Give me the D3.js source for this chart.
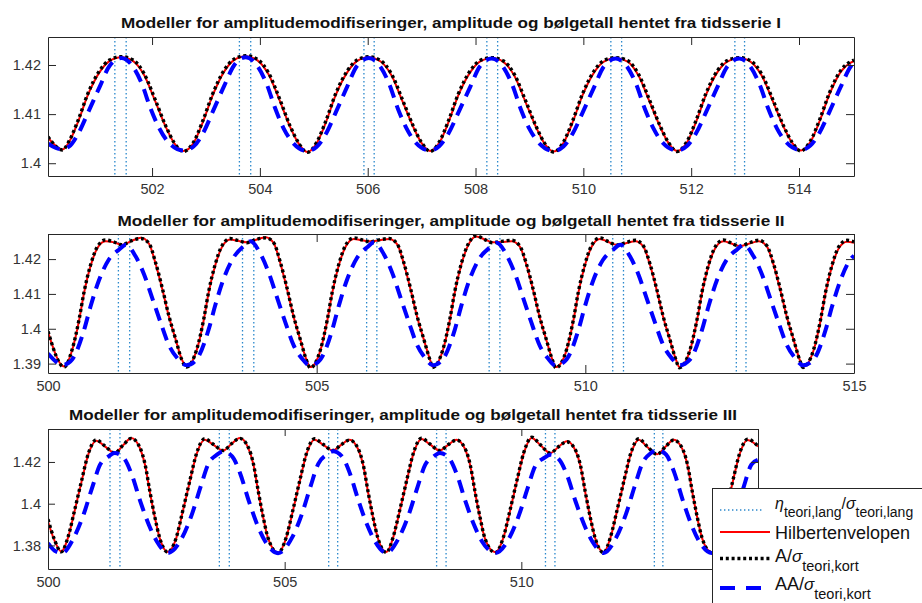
<!DOCTYPE html>
<html>
<head>
<meta charset="utf-8">
<script src="https://cdn.jsdelivr.net/npm/d3@7"></script>
<style>
  html, body { margin: 0; padding: 0; background: #fff; }
  svg { display: block; font-family: "Liberation Sans", Arial, Helvetica, sans-serif; }
</style>
</head>
<body>
<svg id="fig" width="922" height="603"></svg>
<script>
// ---- η_teori,lang / σ_teori,lang : steep crossings seen as vertical dotted lines ----
const etaCrossings = [501.31, 501.52, 503.62, 503.83, 505.93, 506.12, 508.21, 508.41, 510.51, 510.71, 512.81, 512.99];

// ---- Tidsserie I ----
const p1X = [500.07, 500.34,
  500.46, 500.63, 500.81, 501.03, 501.21, 501.43, 501.65, 501.85, 502.06, 502.25, 502.41, 502.58,
  502.77, 502.94, 503.12, 503.34, 503.52, 503.74, 503.96, 504.16, 504.37, 504.56, 504.72, 504.88,
  505.05, 505.22, 505.40, 505.62, 505.80, 506.02, 506.24, 506.44, 506.65, 506.84, 507.00, 507.16,
  507.33, 507.50, 507.68, 507.90, 508.08, 508.30, 508.52, 508.72, 508.93, 509.12, 509.28, 509.45,
  509.63, 509.80, 509.98, 510.20, 510.38, 510.60, 510.82, 511.02, 511.23, 511.42, 511.58, 511.74,
  511.92, 512.09, 512.27, 512.49, 512.67, 512.89, 513.11, 513.31, 513.52, 513.71, 513.87, 514.03,
  514.21, 514.38, 514.56, 514.78, 514.96, 515.02];
const p1Hilbert = [1.4052, 1.4028,
  1.4043, 1.4085, 1.4139, 1.4186, 1.4208, 1.4216, 1.4208, 1.4180, 1.4126, 1.4075, 1.4041, 1.4025,
  1.4041, 1.4083, 1.4137, 1.4187, 1.4210, 1.4218, 1.4209, 1.4181, 1.4127, 1.4074, 1.4040, 1.4023,
  1.4040, 1.4082, 1.4137, 1.4185, 1.4208, 1.4216, 1.4207, 1.4179, 1.4125, 1.4075, 1.4041, 1.4025,
  1.4042, 1.4084, 1.4138, 1.4185, 1.4207, 1.4214, 1.4206, 1.4178, 1.4124, 1.4074, 1.4040, 1.4024,
  1.4041, 1.4083, 1.4137, 1.4185, 1.4207, 1.4214, 1.4207, 1.4179, 1.4125, 1.4075, 1.4041, 1.4025,
  1.4042, 1.4084, 1.4138, 1.4186, 1.4207, 1.4214, 1.4206, 1.4178, 1.4125, 1.4075, 1.4042, 1.4026,
  1.4043, 1.4085, 1.4139, 1.4187, 1.4205, 1.4208];
const p1A = [1.4054, 1.4027,
  1.4045, 1.4088, 1.4142, 1.4189, 1.4210, 1.4217, 1.4210, 1.4183, 1.4129, 1.4077, 1.4042, 1.4024,
  1.4043, 1.4086, 1.4140, 1.4190, 1.4212, 1.4219, 1.4211, 1.4184, 1.4130, 1.4076, 1.4041, 1.4022,
  1.4042, 1.4085, 1.4140, 1.4188, 1.4210, 1.4217, 1.4209, 1.4182, 1.4128, 1.4077, 1.4042, 1.4024,
  1.4044, 1.4087, 1.4141, 1.4188, 1.4209, 1.4215, 1.4208, 1.4181, 1.4127, 1.4076, 1.4041, 1.4023,
  1.4043, 1.4086, 1.4140, 1.4188, 1.4209, 1.4215, 1.4209, 1.4182, 1.4128, 1.4077, 1.4042, 1.4024,
  1.4044, 1.4087, 1.4141, 1.4189, 1.4209, 1.4215, 1.4208, 1.4181, 1.4128, 1.4077, 1.4043, 1.4025,
  1.4045, 1.4088, 1.4142, 1.4190, 1.4207, 1.4210];
const p1XAA = [500.07, 500.30,
  500.46, 500.63, 500.82, 501.03, 501.21, 501.43, 501.63, 501.81, 501.97, 502.13, 502.30, 502.58,
  502.77, 502.94, 503.13, 503.34, 503.52, 503.74, 503.94, 504.12, 504.28, 504.44, 504.61, 504.88,
  505.05, 505.22, 505.41, 505.62, 505.80, 506.02, 506.22, 506.40, 506.56, 506.72, 506.89, 507.16,
  507.33, 507.50, 507.69, 507.90, 508.08, 508.30, 508.50, 508.68, 508.84, 509.00, 509.17, 509.45,
  509.63, 509.80, 509.99, 510.20, 510.38, 510.60, 510.80, 510.98, 511.14, 511.30, 511.47, 511.74,
  511.92, 512.09, 512.28, 512.49, 512.67, 512.89, 513.09, 513.27, 513.43, 513.59, 513.76, 514.03,
  514.21, 514.38, 514.57, 514.78, 514.96, 515.02];
const p1AA = [1.4040, 1.4029,
  1.4034, 1.4060, 1.4105, 1.4156, 1.4198, 1.4214, 1.4199, 1.4162, 1.4112, 1.4072, 1.4043, 1.4026,
  1.4034, 1.4060, 1.4106, 1.4158, 1.4199, 1.4216, 1.4200, 1.4163, 1.4113, 1.4071, 1.4042, 1.4025,
  1.4033, 1.4059, 1.4104, 1.4156, 1.4198, 1.4214, 1.4199, 1.4161, 1.4111, 1.4071, 1.4042, 1.4026,
  1.4035, 1.4061, 1.4105, 1.4155, 1.4197, 1.4213, 1.4198, 1.4160, 1.4110, 1.4070, 1.4042, 1.4025,
  1.4034, 1.4060, 1.4104, 1.4155, 1.4197, 1.4213, 1.4198, 1.4161, 1.4111, 1.4071, 1.4042, 1.4026,
  1.4035, 1.4061, 1.4105, 1.4156, 1.4197, 1.4213, 1.4198, 1.4160, 1.4111, 1.4071, 1.4043, 1.4027,
  1.4036, 1.4062, 1.4106, 1.4157, 1.4197, 1.4204];

// ---- Tidsserie II ----
const p2X = [500.00, 500.30,
  500.45, 500.58, 500.67, 500.79, 500.92, 501.07, 501.23, 501.38, 501.54, 501.73, 501.88, 502.00, 502.13, 502.25, 502.38, 502.49, 502.58,
  502.77, 502.90, 502.99, 503.11, 503.24, 503.39, 503.55, 503.70, 503.86, 504.05, 504.20, 504.32, 504.45, 504.57, 504.70, 504.81, 504.88,
  505.07, 505.20, 505.29, 505.41, 505.54, 505.69, 505.85, 506.00, 506.16, 506.35, 506.50, 506.62, 506.75, 506.87, 507.00, 507.11, 507.16,
  507.35, 507.48, 507.57, 507.69, 507.82, 507.97, 508.13, 508.28, 508.44, 508.63, 508.78, 508.90, 509.03, 509.15, 509.28, 509.39, 509.45,
  509.65, 509.78, 509.87, 509.99, 510.12, 510.27, 510.43, 510.58, 510.74, 510.93, 511.08, 511.20, 511.33, 511.45, 511.58, 511.69, 511.75,
  511.95, 512.08, 512.17, 512.29, 512.42, 512.57, 512.73, 512.88, 513.04, 513.23, 513.38, 513.50, 513.63, 513.75, 513.88, 513.99, 514.05,
  514.25, 514.38, 514.47, 514.59, 514.72, 514.87, 515.00];
const p2Hilbert = [1.3991, 1.3892,
  1.3939, 1.4025, 1.4102, 1.4179, 1.4232, 1.4251, 1.4248, 1.4241, 1.4251, 1.4261, 1.4244, 1.4188, 1.4112, 1.4035, 1.3967, 1.3912, 1.3892,
  1.3940, 1.4026, 1.4104, 1.4181, 1.4235, 1.4256, 1.4252, 1.4248, 1.4255, 1.4263, 1.4246, 1.4190, 1.4113, 1.4035, 1.3966, 1.3911, 1.3890,
  1.3938, 1.4025, 1.4103, 1.4181, 1.4236, 1.4258, 1.4254, 1.4251, 1.4254, 1.4258, 1.4242, 1.4188, 1.4111, 1.4034, 1.3966, 1.3911, 1.3891,
  1.3939, 1.4026, 1.4104, 1.4183, 1.4240, 1.4265, 1.4256, 1.4248, 1.4249, 1.4251, 1.4236, 1.4185, 1.4110, 1.4033, 1.3965, 1.3910, 1.3890,
  1.3938, 1.4025, 1.4103, 1.4181, 1.4236, 1.4258, 1.4249, 1.4241, 1.4245, 1.4251, 1.4236, 1.4185, 1.4110, 1.4033, 1.3965, 1.3910, 1.3890,
  1.3939, 1.4025, 1.4102, 1.4179, 1.4232, 1.4251, 1.4244, 1.4237, 1.4244, 1.4251, 1.4236, 1.4185, 1.4110, 1.4034, 1.3966, 1.3911, 1.3891,
  1.3939, 1.4025, 1.4102, 1.4179, 1.4232, 1.4250, 1.4247];
const p2A = [1.3993, 1.3890,
  1.3941, 1.4028, 1.4105, 1.4182, 1.4236, 1.4255, 1.4249, 1.4241, 1.4252, 1.4259, 1.4245, 1.4191, 1.4115, 1.4037, 1.3968, 1.3911, 1.3890,
  1.3942, 1.4029, 1.4107, 1.4184, 1.4239, 1.4259, 1.4253, 1.4247, 1.4256, 1.4261, 1.4247, 1.4193, 1.4116, 1.4037, 1.3967, 1.3910, 1.3888,
  1.3940, 1.4028, 1.4106, 1.4184, 1.4240, 1.4261, 1.4255, 1.4250, 1.4255, 1.4259, 1.4243, 1.4191, 1.4114, 1.4036, 1.3967, 1.3910, 1.3889,
  1.3941, 1.4029, 1.4107, 1.4186, 1.4243, 1.4267, 1.4256, 1.4247, 1.4251, 1.4254, 1.4238, 1.4188, 1.4113, 1.4035, 1.3966, 1.3909, 1.3888,
  1.3940, 1.4028, 1.4106, 1.4184, 1.4240, 1.4261, 1.4250, 1.4240, 1.4247, 1.4254, 1.4238, 1.4188, 1.4113, 1.4035, 1.3966, 1.3909, 1.3888,
  1.3941, 1.4028, 1.4105, 1.4182, 1.4236, 1.4255, 1.4245, 1.4236, 1.4246, 1.4254, 1.4238, 1.4188, 1.4113, 1.4036, 1.3967, 1.3910, 1.3889,
  1.3941, 1.4028, 1.4105, 1.4182, 1.4236, 1.4254, 1.4250];
const p2XAA = [500.00, 500.28,
  500.45, 500.67, 500.79, 500.95, 501.13, 501.32, 501.45, 501.63, 501.79, 501.94, 502.10, 502.25, 502.41, 502.58,
  502.77, 502.99, 503.11, 503.27, 503.45, 503.64, 503.77, 503.95, 504.11, 504.26, 504.42, 504.57, 504.73, 504.88,
  505.07, 505.29, 505.41, 505.57, 505.75, 505.94, 506.07, 506.25, 506.41, 506.56, 506.72, 506.87, 507.03, 507.16,
  507.35, 507.57, 507.69, 507.85, 508.03, 508.22, 508.35, 508.53, 508.69, 508.84, 509.00, 509.15, 509.31, 509.45,
  509.65, 509.87, 509.99, 510.15, 510.33, 510.52, 510.65, 510.83, 510.99, 511.14, 511.30, 511.45, 511.61, 511.75,
  511.95, 512.17, 512.29, 512.45, 512.63, 512.82, 512.95, 513.13, 513.29, 513.44, 513.60, 513.75, 513.91, 514.05,
  514.25, 514.47, 514.59, 514.75, 514.93, 515.00];
const p2AA = [1.3929, 1.3896,
  1.3912, 1.3996, 1.4063, 1.4140, 1.4198, 1.4227, 1.4241, 1.4208, 1.4155, 1.4088, 1.4016, 1.3953, 1.3915, 1.3895,
  1.3913, 1.3998, 1.4066, 1.4144, 1.4204, 1.4237, 1.4251, 1.4216, 1.4160, 1.4091, 1.4017, 1.3953, 1.3914, 1.3894,
  1.3912, 1.3997, 1.4065, 1.4143, 1.4203, 1.4234, 1.4248, 1.4214, 1.4159, 1.4090, 1.4017, 1.3953, 1.3914, 1.3895,
  1.3913, 1.3997, 1.4065, 1.4143, 1.4202, 1.4233, 1.4247, 1.4213, 1.4158, 1.4090, 1.4016, 1.3952, 1.3914, 1.3894,
  1.3912, 1.3996, 1.4063, 1.4140, 1.4198, 1.4227, 1.4241, 1.4208, 1.4155, 1.4088, 1.4016, 1.3953, 1.3915, 1.3895,
  1.3912, 1.3996, 1.4063, 1.4140, 1.4198, 1.4227, 1.4241, 1.4208, 1.4155, 1.4088, 1.4016, 1.3953, 1.3915, 1.3895,
  1.3912, 1.3996, 1.4063, 1.4140, 1.4198, 1.4210];

// ---- Tidsserie III ----
const p3X = [500.00, 500.14, 500.28,
  500.42, 500.56, 500.71, 500.85, 501.02, 501.20, 501.41, 501.59, 501.76, 501.94, 502.05, 502.15, 502.26, 502.36, 502.53,
  502.71, 502.85, 503.00, 503.14, 503.31, 503.49, 503.70, 503.88, 504.05, 504.23, 504.34, 504.44, 504.55, 504.65, 504.86,
  505.03, 505.17, 505.32, 505.46, 505.63, 505.81, 506.02, 506.20, 506.37, 506.55, 506.66, 506.76, 506.87, 506.97, 507.15,
  507.29, 507.43, 507.58, 507.72, 507.89, 508.07, 508.28, 508.46, 508.63, 508.81, 508.92, 509.02, 509.13, 509.23, 509.45,
  509.62, 509.76, 509.91, 510.05, 510.22, 510.40, 510.61, 510.79, 510.96, 511.14, 511.25, 511.35, 511.46, 511.56, 511.74,
  511.88, 512.02, 512.17, 512.31, 512.48, 512.66, 512.87, 513.05, 513.22, 513.40, 513.51, 513.61, 513.72, 513.82, 514.02,
  514.18, 514.32, 514.47, 514.61, 514.78, 515.00];
const p3Hilbert = [1.3915, 1.3822, 1.3771,
  1.3835, 1.3963, 1.4107, 1.4235, 1.4302, 1.4275, 1.4243, 1.4281, 1.4315, 1.4267, 1.4187, 1.4059, 1.3931, 1.3835, 1.3769,
  1.3835, 1.3965, 1.4110, 1.4238, 1.4307, 1.4283, 1.4255, 1.4287, 1.4315, 1.4268, 1.4188, 1.4060, 1.3930, 1.3834, 1.3766,
  1.3834, 1.3962, 1.4108, 1.4237, 1.4307, 1.4283, 1.4255, 1.4283, 1.4307, 1.4262, 1.4184, 1.4057, 1.3930, 1.3834, 1.3768,
  1.3836, 1.3964, 1.4110, 1.4239, 1.4310, 1.4284, 1.4255, 1.4283, 1.4307, 1.4262, 1.4184, 1.4057, 1.3930, 1.3834, 1.3767,
  1.3836, 1.3964, 1.4111, 1.4240, 1.4315, 1.4281, 1.4243, 1.4273, 1.4299, 1.4256, 1.4180, 1.4055, 1.3929, 1.3834, 1.3767,
  1.3835, 1.3963, 1.4108, 1.4236, 1.4307, 1.4272, 1.4237, 1.4274, 1.4307, 1.4263, 1.4185, 1.4058, 1.3930, 1.3834, 1.3767,
  1.3835, 1.3963, 1.4108, 1.4236, 1.4305, 1.4274];
const p3A = [1.3925, 1.3826, 1.3769,
  1.3838, 1.3967, 1.4111, 1.4239, 1.4306, 1.4277, 1.4243, 1.4282, 1.4313, 1.4270, 1.4190, 1.4062, 1.3933, 1.3836, 1.3767,
  1.3838, 1.3969, 1.4114, 1.4242, 1.4311, 1.4285, 1.4255, 1.4288, 1.4313, 1.4271, 1.4191, 1.4063, 1.3932, 1.3835, 1.3764,
  1.3837, 1.3966, 1.4112, 1.4241, 1.4311, 1.4285, 1.4255, 1.4284, 1.4305, 1.4265, 1.4187, 1.4060, 1.3932, 1.3835, 1.3766,
  1.3839, 1.3968, 1.4114, 1.4243, 1.4314, 1.4286, 1.4255, 1.4284, 1.4305, 1.4265, 1.4187, 1.4060, 1.3932, 1.3835, 1.3765,
  1.3839, 1.3968, 1.4115, 1.4244, 1.4319, 1.4283, 1.4243, 1.4274, 1.4297, 1.4259, 1.4183, 1.4058, 1.3931, 1.3835, 1.3765,
  1.3838, 1.3967, 1.4112, 1.4240, 1.4311, 1.4274, 1.4237, 1.4275, 1.4305, 1.4266, 1.4188, 1.4061, 1.3932, 1.3835, 1.3765,
  1.3838, 1.3967, 1.4112, 1.4240, 1.4309, 1.4276];
const p3XAA = [500.00, 500.16, 500.30,
  500.54, 500.75, 500.93, 501.10, 501.28, 501.41, 501.60, 501.77, 501.95, 502.13, 502.30, 502.53,
  502.83, 503.04, 503.22, 503.39, 503.57, 503.70, 503.89, 504.06, 504.24, 504.42, 504.59, 504.86,
  505.15, 505.36, 505.54, 505.71, 505.89, 506.02, 506.21, 506.38, 506.56, 506.74, 506.91, 507.15,
  507.41, 507.62, 507.80, 507.97, 508.15, 508.28, 508.47, 508.64, 508.82, 509.00, 509.17, 509.45,
  509.74, 509.95, 510.13, 510.30, 510.48, 510.61, 510.80, 510.97, 511.15, 511.33, 511.50, 511.74,
  512.00, 512.21, 512.39, 512.56, 512.74, 512.87, 513.06, 513.23, 513.41, 513.59, 513.76, 514.02,
  514.30, 514.51, 514.69, 514.86, 515.00];
const p3AA = [1.3811, 1.3772, 1.3764,
  1.3835, 1.3947, 1.4075, 1.4187, 1.4227, 1.4243, 1.4219, 1.4139, 1.4011, 1.3899, 1.3819, 1.3764,
  1.3836, 1.3949, 1.4078, 1.4192, 1.4235, 1.4251, 1.4227, 1.4145, 1.4015, 1.3900, 1.3819, 1.3763,
  1.3835, 1.3948, 1.4078, 1.4191, 1.4235, 1.4251, 1.4227, 1.4144, 1.4014, 1.3900, 1.3819, 1.3764,
  1.3835, 1.3947, 1.4075, 1.4187, 1.4227, 1.4243, 1.4219, 1.4139, 1.4011, 1.3899, 1.3819, 1.3764,
  1.3834, 1.3945, 1.4072, 1.4183, 1.4219, 1.4235, 1.4211, 1.4134, 1.4008, 1.3898, 1.3819, 1.3764,
  1.3836, 1.3950, 1.4080, 1.4195, 1.4243, 1.4259, 1.4235, 1.4150, 1.4017, 1.3901, 1.3819, 1.3764,
  1.3835, 1.3947, 1.4075, 1.4187, 1.4210];

// ---- axis ticks ----
const p1XTicks = [502, 504, 506, 508, 510, 512, 514];
const p23XTicks = [500, 505, 510, 515];
const p1YTicks = [1.40, 1.41, 1.42];
const p2YTicks = [1.39, 1.40, 1.41, 1.42];
const p3YTicks = [1.38, 1.40, 1.42];

const titleBase = "Modeller for amplitudemodifiseringer, amplitude og bølgetall hentet fra tidsserie ";
const serieNames = ["I", "II", "III"];

// ---- drawing ----
const svg = d3.select("#fig");
const AXIS = "#262626";
const ETA = "#2a88cc";
const fmt = d => String(+d.toFixed(2));

const panels = [
  { box: [48, 854, 37, 176], xd: [500.07, 515.02], yd: [1.3974, 1.4257], xt: p1XTicks, yt: p1YTicks,
    titleY: 28, titleLen: 660, tick: 8,
    red: [p1X, p1Hilbert], black: [p1X, p1A], blue: [p1XAA, p1AA] },
  { box: [48, 854, 234, 373], xd: [500, 515], yd: [1.3873, 1.4272], xt: p23XTicks, yt: p2YTicks,
    titleY: 226, titleLen: 667, tick: 8,
    red: [p2X, p2Hilbert], black: [p2X, p2A], blue: [p2XAA, p2AA] },
  { box: [48, 758, 429, 569], xd: [500, 515], yd: [1.3687, 1.4358], xt: p23XTicks, yt: p3YTicks,
    titleY: 420, titleLen: 668, tick: 7,
    red: [p3X, p3Hilbert], black: [p3X, p3A], blue: [p3XAA, p3AA] }
];

panels.forEach((p, i) => {
  const [L, R, T, B] = p.box;
  const x = d3.scaleLinear().domain(p.xd).range([L, R]);
  const y = d3.scaleLinear().domain(p.yd).range([B, T]);
  const g = svg.append("g");

  const clipId = "clip" + i;
  svg.append("clipPath").attr("id", clipId)
    .append("rect").attr("x", L).attr("y", T).attr("width", R - L).attr("height", B - T);

  const plot = g.append("g").attr("clip-path", `url(#${clipId})`);

  // η dotted lines
  plot.selectAll("line.eta").data(etaCrossings).join("line")
    .attr("class", "eta")
    .attr("x1", d => x(d)).attr("x2", d => x(d))
    .attr("y1", T).attr("y2", B)
    .attr("stroke", ETA).attr("stroke-width", 1.3)
    .attr("stroke-dasharray", "1.4,2.6");

  const line = d3.line().x(d => x(d[0])).y(d => y(d[1])).curve(d3.curveMonotoneX);

  plot.append("path").datum(d3.zip(...p.red)).attr("d", line)
    .attr("fill", "none").attr("stroke", "#ff0000").attr("stroke-width", 2);
  plot.append("path").datum(d3.zip(...p.black)).attr("d", line)
    .attr("fill", "none").attr("stroke", "#000").attr("stroke-width", 3.4)
    .attr("stroke-dasharray", "3,2.8");
  plot.append("path").datum(d3.zip(...p.blue)).attr("d", line)
    .attr("fill", "none").attr("stroke", "#0000ff").attr("stroke-width", 4)
    .attr("stroke-dasharray", "13,8");

  // axes (box with inward ticks on all sides)
  const styleAxis = sel => {
    sel.selectAll(".domain").attr("stroke", AXIS).attr("stroke-width", 1);
    sel.selectAll(".tick line").attr("stroke", AXIS);
    sel.selectAll(".tick text").attr("fill", "#333").attr("font-size", 14.5)
      .attr("font-family", '"Liberation Sans", Arial, Helvetica, sans-serif');
  };
  g.append("g").attr("transform", `translate(0,${B})`)
    .call(d3.axisBottom(x).tickValues(p.xt).tickFormat(fmt).tickSizeInner(-p.tick).tickSizeOuter(0).tickPadding(8))
    .call(styleAxis);
  g.append("g").attr("transform", `translate(0,${T})`)
    .call(d3.axisTop(x).tickValues(p.xt).tickFormat("").tickSizeInner(-p.tick).tickSizeOuter(0))
    .call(styleAxis);
  g.append("g").attr("transform", `translate(${L},0)`)
    .call(d3.axisLeft(y).tickValues(p.yt).tickFormat(fmt).tickSizeInner(-p.tick).tickSizeOuter(0).tickPadding(7))
    .call(styleAxis);
  g.append("g").attr("transform", `translate(${R},0)`)
    .call(d3.axisRight(y).tickValues(p.yt).tickFormat("").tickSizeInner(-p.tick).tickSizeOuter(0))
    .call(styleAxis);

  // title
  g.append("text")
    .attr("x", (L + R) / 2).attr("y", p.titleY)
    .attr("text-anchor", "middle")
    .attr("font-weight", "bold").attr("font-size", 15.5).attr("fill", "#111")
    .attr("textLength", p.titleLen).attr("lengthAdjust", "spacingAndGlyphs")
    .text(titleBase + serieNames[i]);
});

// ---- legend ----
const leg = svg.append("g");
leg.append("rect").attr("x", 712.5).attr("y", 488.5).attr("width", 220).attr("height", 130)
  .attr("fill", "#fff").attr("stroke", AXIS).attr("stroke-width", 1);

const legRows = [
  { y: 510, stroke: ETA, w: 1.3, dash: "1.4,2.6", x2: 764 },
  { y: 532, stroke: "#ff0000", w: 2, dash: null, x2: 770 },
  { y: 558.5, stroke: "#000", w: 3.4, dash: "3,2.8", x2: 770 },
  { y: 588, stroke: "#0000ff", w: 4, dash: "15,11", x2: 764 }
];
legRows.forEach(r => {
  leg.append("line").attr("x1", 720).attr("x2", r.x2).attr("y1", r.y).attr("y2", r.y)
    .attr("stroke", r.stroke).attr("stroke-width", r.w)
    .attr("stroke-dasharray", r.dash);
});

const FONT = '"Liberation Sans", Arial, Helvetica, sans-serif';
// row 1: η_{teori,lang}/σ_{teori,lang}
const t1 = leg.append("text").attr("x", 775).attr("y", 509).attr("font-family", FONT).attr("fill", "#111");
t1.append("tspan").attr("font-size", 16).attr("font-style", "italic").text("η");
t1.append("tspan").attr("font-size", 14).attr("dy", 8).text("teori,lang");
t1.append("tspan").attr("font-size", 16).attr("dy", -8).text("/");
t1.append("tspan").attr("font-size", 16).attr("font-style", "italic").text("σ");
t1.append("tspan").attr("font-size", 14).attr("dy", 8).text("teori,lang");

// row 2
leg.append("text").attr("x", 775).attr("y", 539).attr("font-family", FONT).attr("font-size", 18)
  .attr("fill", "#111").text("Hilbertenvelopen");

// row 3: A/σ_{teori,kort}
const t3 = leg.append("text").attr("x", 775).attr("y", 562).attr("font-family", FONT).attr("fill", "#111");
t3.append("tspan").attr("font-size", 18).text("A/");
t3.append("tspan").attr("font-size", 17).attr("font-style", "italic").text("σ");
t3.append("tspan").attr("font-size", 14.5).attr("dy", 9).text("teori,kort");

// row 4: AA/σ_{teori,kort}
const t4 = leg.append("text").attr("x", 775).attr("y", 590).attr("font-family", FONT).attr("fill", "#111");
t4.append("tspan").attr("font-size", 18).text("AA/");
t4.append("tspan").attr("font-size", 17).attr("font-style", "italic").text("σ");
t4.append("tspan").attr("font-size", 14.5).attr("dy", 9).text("teori,kort");
</script>
</body>
</html>
